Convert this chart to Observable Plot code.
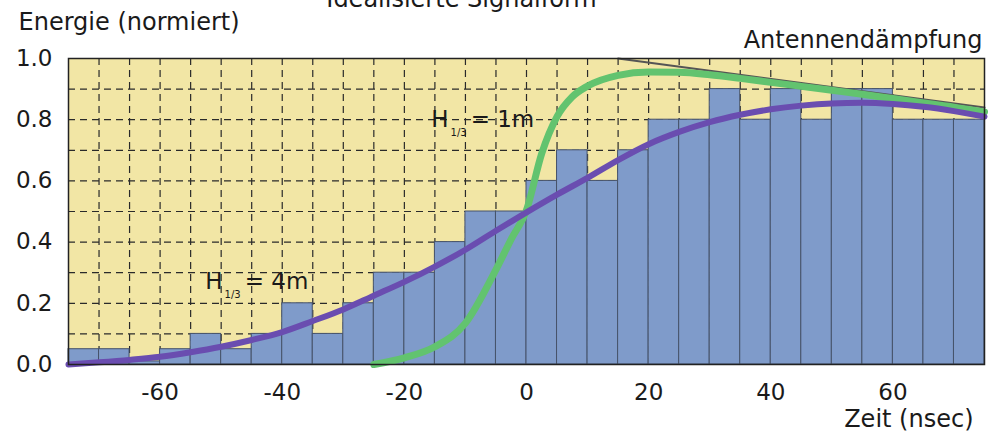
<!DOCTYPE html>
<html>
<head>
<meta charset="utf-8">
<script src="https://cdn.jsdelivr.net/npm/d3@7"></script>
<script src="https://cdn.jsdelivr.net/npm/@observablehq/plot@0.6"></script>
<style>
  html, body { margin: 0; padding: 0; background: #fff; }
  #chart svg { display: block; }
</style>
</head>
<body>
<div id="chart"></div>
<script>
// ---- data ----
const binStart = [-75,-70,-65,-60,-55,-50,-45,-40,-35,-30,-25,-20,-15,-10,-5,0,5,10,15,20,25,30,35,40,45,50,55,60,65,70];
const binEnd   = [-70,-65,-60,-55,-50,-45,-40,-35,-30,-25,-20,-15,-10,-5,0,5,10,15,20,25,30,35,40,45,50,55,60,65,70,75];
const energy   = [0.05,0.05,0.01,0.05,0.10,0.05,0.10,0.20,0.10,0.20,0.30,0.30,0.40,0.50,0.50,0.60,0.70,0.60,0.70,0.80,0.80,0.90,0.80,0.90,0.80,0.90,0.90,0.80,0.80,0.80];

// H1/3 = 4m curve (purple)
const h4Time   = [-75,-70,-65,-60,-55,-50,-45,-40,-35,-30,-25,-20,-15,-10,-5,0,5,10,15,20,25,30,35,40,45,50,55,60,65,70,75];
const h4Energy = [0,0.007,0.015,0.025,0.04,0.058,0.08,0.106,0.142,0.18,0.225,0.27,0.32,0.375,0.437,0.497,0.555,0.61,0.668,0.72,0.76,0.792,0.816,0.834,0.846,0.853,0.855,0.851,0.842,0.828,0.81];

// H1/3 = 1m curve (green)
const h1Time   = [-25,-20,-15,-10,-5,-2.5,0,2.5,5,7.5,10,15,20,25,30,35,40,45,50,55,60,65,70,75];
const h1Energy = [0,0.022,0.058,0.135,0.31,0.41,0.505,0.69,0.81,0.875,0.91,0.945,0.956,0.955,0.947,0.935,0.922,0.909,0.896,0.883,0.869,0.855,0.841,0.825];

// Antennendämpfung line
const attTime   = [15, 75];
const attEnergy = [1.0, 0.84];

// tick labels / grid
const xTicks = [-60,-40,-20,0,20,40,60];
const yTicks = [0,0.2,0.4,0.6,0.8,1.0];
const gridX = [-70,-65,-60,-55,-50,-45,-40,-35,-30,-25,-20,-15,-10,-5,0,5,10,15,20,25,30,35,40,45,50,55,60,65,70];
const gridY = [0.1,0.2,0.3,0.4,0.5,0.6,0.7,0.8,0.9];

// curve labels
const labelText = ["H1/3 = 1m", "H1/3 = 4m"];
const labelTime = [-15.6, -52.6];
const labelEnergy = [0.80, 0.27];

const bars = binStart.map((s, i) => ({s, e: binEnd[i], v: energy[i]}));
const h4 = h4Time.map((t, i) => ({t, v: h4Energy[i]}));
const h1 = h1Time.map((t, i) => ({t, v: h1Energy[i]}));
const att = attTime.map((t, i) => ({t, v: attEnergy[i]}));
const labels = labelText.map((text, i) => ({text, t: labelTime[i], v: labelEnergy[i]}));

const FONT = "'DejaVu Sans', sans-serif";

const chart = Plot.plot({
  width: 995,
  height: 433,
  marginLeft: 68,
  marginRight: 11,
  marginTop: 58,
  marginBottom: 69,
  style: {fontFamily: FONT, fontSize: "23px", color: "#1a1a1a", background: "#fff"},
  x: {domain: [-75, 75], axis: null},
  y: {domain: [0, 1], axis: null},
  marks: [
    Plot.frame({fill: "#f2e6a5", stroke: null}),
    Plot.ruleX(gridX, {stroke: "#2a2a2a", strokeWidth: 1.2, strokeDasharray: "7,5"}),
    Plot.ruleY(gridY, {stroke: "#2a2a2a", strokeWidth: 1.2, strokeDasharray: "7,5"}),
    Plot.rectY(bars, {x1: "s", x2: "e", y1: 0, y2: "v", fill: "#7f9bca", stroke: "#46536a", strokeWidth: 1}),
    Plot.line(att, {x: "t", y: "v", stroke: "#555", strokeWidth: 2}),
    Plot.line(h1, {x: "t", y: "v", stroke: "#62c36f", strokeWidth: 7, curve: "monotone-x", strokeLinecap: "round"}),
    Plot.line(h4, {x: "t", y: "v", stroke: "#6a4db0", strokeWidth: 6, curve: "monotone-x", strokeLinecap: "round"}),
    Plot.frame({stroke: "#222", strokeWidth: 1.5}),
    Plot.axisX({ticks: xTicks, tickSize: 0, tickPadding: 19, fontSize: 23, label: null, tickFormat: d => d}),
    Plot.axisY({ticks: yTicks, tickSize: 0, tickPadding: 16, fontSize: 23, label: null, tickFormat: d3.format(".1f")}),
    Plot.text(labels, {x: "t", y: "v", text: "text", textAnchor: "start", lineAnchor: "middle", fontSize: 23, fill: "#1a1a1a"}),
    Plot.text(["Energie (normiert)"], {frameAnchor: "top-left", lineAnchor: "middle", dx: -50, dy: -35.7, textAnchor: "start", fontSize: 24}),
    Plot.text(["Antennendämpfung"], {frameAnchor: "top-right", lineAnchor: "middle", dx: -2, dy: -17.7, textAnchor: "end", fontSize: 24}),
    Plot.text(["Zeit (nsec)"], {frameAnchor: "bottom-right", lineAnchor: "middle", dx: -11, dy: 55, textAnchor: "end", fontSize: 24}),
    Plot.text(["Idealisierte Signalform"], {frameAnchor: "top", lineAnchor: "middle", dx: -65, dy: -58.7, textAnchor: "middle", fontSize: 24})
  ]
});

// subscript "1/3" in the H labels
d3.select(chart).selectAll("text").filter(function() {
  return this.textContent.startsWith("H1/3");
}).each(function() {
  const rest = this.textContent.slice(4).trim();
  const t = d3.select(this);
  t.text(null);
  t.append("tspan").text("H");
  t.append("tspan").attr("font-size", 10).attr("dx", 2).attr("dy", 9).text("1/3");
  t.append("tspan").attr("dx", 4).attr("dy", -9).text(rest);
});

document.getElementById("chart").append(chart);
</script>
</body>
</html>
